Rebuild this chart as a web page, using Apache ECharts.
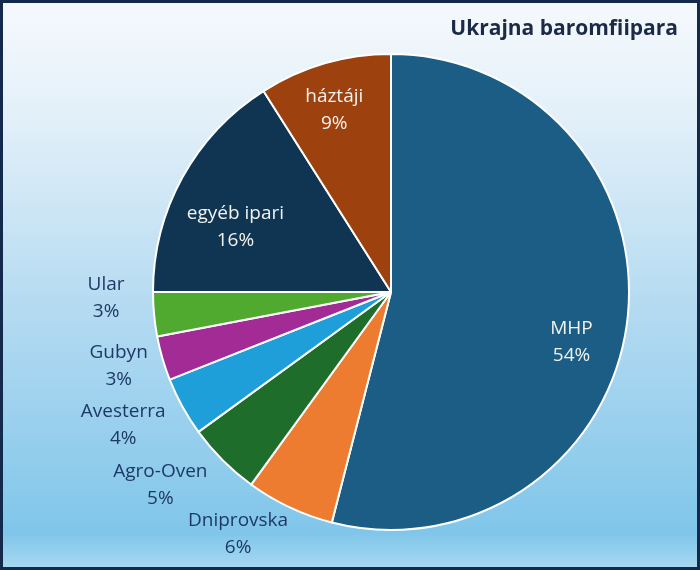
<!DOCTYPE html>
<html><head><meta charset="utf-8">
<script src="https://cdn.jsdelivr.net/npm/echarts@6/dist/echarts.min.js"></script>
<style>html,body{margin:0;padding:0;background:#fff}#main{width:700px;height:570px;box-sizing:border-box;border:3px solid #142a4c;}</style>
</head><body><div id="main"></div>
<script>
const titleText = 'Ukrajna baromfiipara';
const categories = ['MHP', 'Dniprovska', 'Agro-Oven', 'Avesterra', 'Gubyn', 'Ular', 'egyéb ipari', 'háztáji'];
const shares = [54, 6, 5, 4, 3, 3, 16, 9];
const insideLabels = ['MHP', 'egyéb ipari', 'háztáji'];
const colors = ['#1b5d85', '#ee7c30', '#1e6d2b', '#1f9fd9', '#a22b95', '#4faa2f', '#0f3553', '#9d420f'];

// fine label nudges (style only, pixels)
const labelNudge = {
  'MHP': [-7, 26], 'egyéb ipari': [10, 26], 'háztáji': [-4, 0],
  'Ular': [10, -1], 'Gubyn': [16, 12], 'Avesterra': [0, 9], 'Agro-Oven': [-8, 0], 'Dniprovska': [-9, -15]
};

const chart = echarts.init(document.getElementById('main'), null, {renderer: 'canvas'});
const center = [388, 289];
const font = '"Open Sans", "Noto Sans", sans-serif';
const transparent = 'rgba(0,0,0,0)';

function labelData(showInside) {
  return categories.map((n, i) => {
    const isIn = insideLabels.includes(n);
    const show = showInside ? isIn : !isIn;
    return {name: n, value: shares[i], itemStyle: {color: transparent}, label: {show: show}};
  });
}
function nudge(params) {
  const nm = categories[params.dataIndex];
  const d = labelNudge[nm] || [0, 0];
  return {dx: d[0], dy: d[1]};
}

chart.setOption({
  animation: false,
  backgroundColor: {
    type: 'linear', x: 0, y: 0, x2: 0, y2: 1,
    colorStops: [
      {offset: 0, color: '#f5f9fd'},
      {offset: 0.2, color: '#e3f0f9'},
      {offset: 0.55, color: '#b3daf1'},
      {offset: 0.94, color: '#80c6ea'},
      {offset: 1, color: '#a6d7f1'}
    ]
  },
  title: {
    text: titleText, right: 14, top: 11,
    textStyle: {fontFamily: font, fontWeight: 'bold', fontSize: 21, color: '#1b2b47'}
  },
  series: [
    {
      type: 'pie', radius: 238, center: center, startAngle: 90, clockwise: true,
      silent: true, label: {show: false}, labelLine: {show: false},
      itemStyle: {borderColor: '#ffffff', borderWidth: 2},
      data: categories.map((n, i) => ({name: n, value: shares[i], itemStyle: {color: colors[i]}}))
    },
    {
      type: 'pie', radius: [158, 214], center: center, startAngle: 90, clockwise: true,
      silent: true, labelLine: {show: false}, labelLayout: nudge,
      label: {position: 'inside', formatter: '{b}\n{c}%', color: '#f2f2ee', fontFamily: font, fontSize: 19, lineHeight: 27, align: 'center'},
      data: labelData(true)
    },
    {
      type: 'pie', radius: [268, 316], center: center, startAngle: 86, clockwise: true,
      silent: true, labelLine: {show: false}, labelLayout: nudge,
      label: {position: 'inside', formatter: '{b}\n{c}%', color: '#1f3966', fontFamily: font, fontSize: 19, lineHeight: 27, align: 'center'},
      data: labelData(false)
    }
  ]
});
</script></body></html>
